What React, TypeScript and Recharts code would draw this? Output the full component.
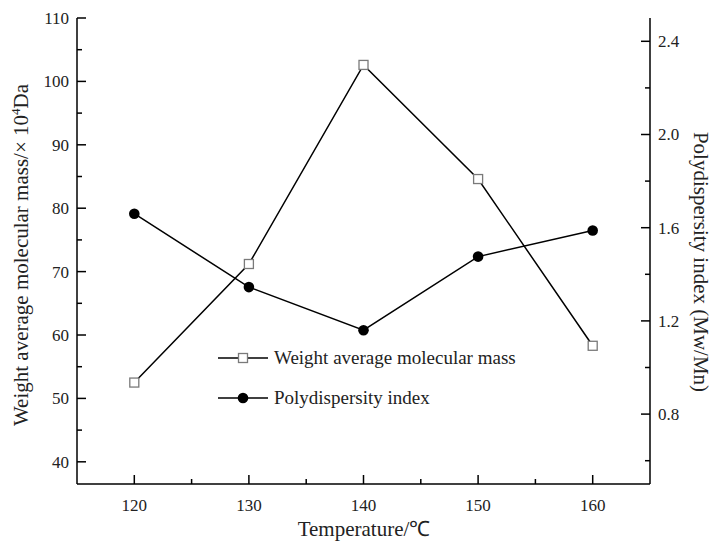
import React from 'react';
import { LineChart, Line, XAxis, YAxis } from 'recharts';

const temperatures = [120, 130, 140, 150, 160];
const weightAvgMass = [52.5, 71.2, 102.6, 84.6, 58.3];
const polydispersity = [1.66, 1.345, 1.16, 1.476, 1.588];

const xTicks = [120, 125, 130, 135, 140, 145, 150, 155, 160];
const leftTicks = [40, 45, 50, 55, 60, 65, 70, 75, 80, 85, 90, 95, 100, 105, 110];
const rightTicks = [0.6, 0.8, 1.0, 1.2, 1.4, 1.6, 1.8, 2.0, 2.2, 2.4];

const seriesNames = ['Weight average molecular mass', 'Polydispersity index'];

const data = temperatures.map((t, i) => ({
 temp: t,
 mw: weightAvgMass[i],
 pdi: polydispersity[i],
}));

const FONT = 'Liberation Serif, serif';
const MAJOR = 9;
const MINOR = 5;

const BottomTick = ({ x, y, payload }: any) => {
 const major = payload.value % 10 === 0;
 return (
 <g>
 <line x1={x} x2={x} y1={y} y2={y - (major ? MAJOR : MINOR)} stroke="#000" strokeWidth={1.5} />
 {major && (
 <text x={x} y={y + 27} textAnchor="middle" style={{ fontFamily: FONT, fontSize: 17 }} fill="#222">
 {payload.value}
 </text>
 )}
 </g>
 );
};

const TopTick = ({ x, y, payload }: any) => {
 const major = payload.value % 10 === 0;
 return <line x1={x} x2={x} y1={y} y2={y + (major ? MAJOR : MINOR)} stroke="#000" strokeWidth={1.5} />;
};

const LeftTick = ({ x, y, payload }: any) => {
 const v = payload.value;
 const major = v % 10 === 0;
 return (
 <g>
 <line x1={x} x2={x + (major ? MAJOR : MINOR)} y1={y} y2={y} stroke="#000" strokeWidth={1.5} />
 {major && (
 <text x={x - 8} y={y} dy="0.35em" textAnchor="end" style={{ fontFamily: FONT, fontSize: 17 }} fill="#222">
 {v}
 </text>
 )}
 </g>
 );
};

const RightTick = ({ x, y, payload }: any) => {
 const v = payload.value;
 const major = Math.round(v * 10) % 4 === 0;
 return (
 <g>
 <line x1={x} x2={x - (major ? MAJOR : MINOR)} y1={y} y2={y} stroke="#000" strokeWidth={1.5} />
 {major && (
 <text x={x + 8} y={y} dy="0.35em" textAnchor="start" style={{ fontFamily: FONT, fontSize: 17 }} fill="#222">
 {v.toFixed(1)}
 </text>
 )}
 </g>
 );
};

const SquareDot = (props: any) => {
 const { cx, cy, index } = props;
 return (
 <rect key={`sq-${index}`} x={cx - 4.5} y={cy - 4.5} width={9} height={9} fill="#fff" stroke="#7a7a7a" strokeWidth={1.3} />
 );
};

const ChartLegend = () => (
 <div style={{ position: 'absolute', left: 218, top: 338, fontFamily: FONT, fontSize: 19, color: '#222' }}>
 {seriesNames.map((name, i) => (
 <div key={name} style={{ display: 'flex', alignItems: 'center', height: 40 }}>
 <svg width={50} height={14} style={{ flexShrink: 0 }}>
 <line x1={0} x2={50} y1={7} y2={7} stroke="#000" strokeWidth={1.5} />
 {i === 0 ? (
 <rect x={20.5} y={2.5} width={9} height={9} fill="#fff" stroke="#7a7a7a" strokeWidth={1.3} />
 ) : (
 <circle cx={25} cy={7} r={5.3} fill="#000" />
 )}
 </svg>
 <span style={{ marginLeft: 6 }}>{name}</span>
 </div>
 ))}
 </div>
);

export default function App() {
 return (
 <div style={{ position: 'relative', width: 713, height: 542, background: '#fff' }}>
 <style>{'body{margin:0}'}</style>
 <LineChart width={713} height={542} data={data} margin={{ top: 18, right: 23, bottom: 28, left: 17 }}>
 <XAxis
 dataKey="temp"
 type="number"
 domain={[115, 165]}
 ticks={xTicks}
 interval={0}
 tickSize={0}
 tickMargin={0}
 tickLine={false}
 tick={<BottomTick />}
 axisLine={{ stroke: '#000', strokeWidth: 1.5 }}
 height={30}
 />
 <XAxis
 xAxisId="top"
 orientation="top"
 dataKey="temp"
 type="number"
 domain={[115, 165]}
 ticks={xTicks}
 interval={0}
 tickSize={0}
 tickMargin={0}
 tickLine={false}
 tick={<TopTick />}
 axisLine={{ stroke: '#000', strokeWidth: 1.5 }}
 height={0}
 />
 <YAxis
 yAxisId="left"
 domain={[36.5, 110]}
 ticks={leftTicks}
 interval={0}
 tickSize={0}
 tickMargin={0}
 tickLine={false}
 tick={<LeftTick />}
 axisLine={{ stroke: '#000', strokeWidth: 1.5 }}
 width={60}
 />
 <YAxis
 yAxisId="right"
 orientation="right"
 domain={[0.5, 2.5]}
 ticks={rightTicks}
 interval={0}
 tickSize={0}
 tickMargin={0}
 tickLine={false}
 tick={<RightTick />}
 axisLine={{ stroke: '#000', strokeWidth: 1.5 }}
 width={40}
 />
 <Line
 yAxisId="left"
 dataKey="mw"
 name={seriesNames[0]}
 stroke="#000"
 strokeWidth={1.5}
 dot={SquareDot}
 isAnimationActive={false}
 />
 <Line
 yAxisId="right"
 dataKey="pdi"
 name={seriesNames[1]}
 stroke="#000"
 strokeWidth={1.5}
 dot={{ r: 5.3, fill: '#000', stroke: '#000', strokeWidth: 0 }}
 isAnimationActive={false}
 />
 </LineChart>
 <ChartLegend />
 <svg width={713} height={542} style={{ position: 'absolute', left: 0, top: 0, pointerEvents: 'none' }}>
 <text
 transform="translate(28,255) rotate(-90)"
 textAnchor="middle"
 style={{ fontFamily: FONT, fontSize: 21 }}
 fill="#222"
 >
 Weight average molecular mass/× 10<tspan dy={-8} fontSize={13}>4</tspan>
 <tspan dy={8}>Da</tspan>
 </text>
 <text
 transform="translate(694,262) rotate(90)"
 textAnchor="middle"
 style={{ fontFamily: FONT, fontSize: 21 }}
 fill="#222"
 >
 Polydispersity index (Mw/Mn)
 </text>
 <text x={364} y={536} textAnchor="middle" style={{ fontFamily: FONT, fontSize: 21 }} fill="#222">
 Temperature/℃
 </text>
 </svg>
 </div>
 );
}
